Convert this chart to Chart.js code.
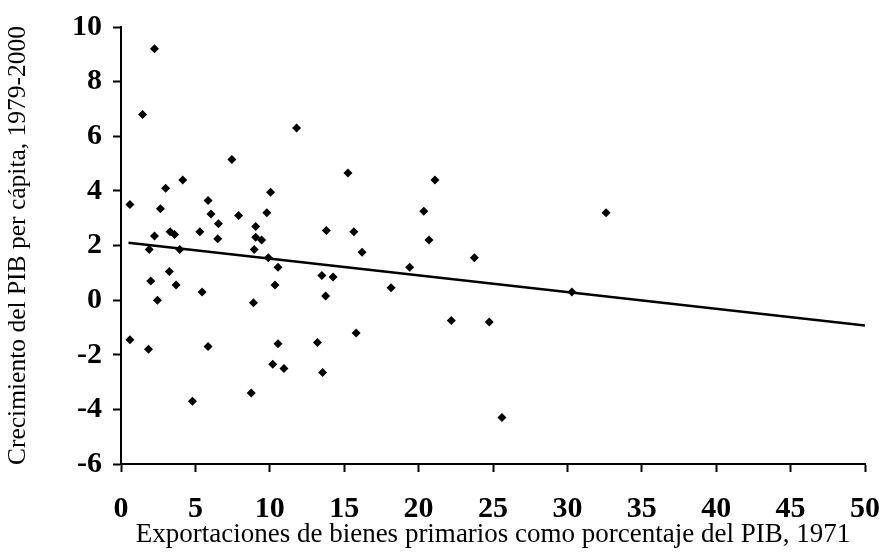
<!DOCTYPE html>
<html>
<head>
<meta charset="utf-8">
<script src="https://cdn.jsdelivr.net/npm/chart.js@4/dist/chart.umd.min.js"></script>
<style>
  html, body { margin: 0; padding: 0; background: #fff; }
  #wrap { width: 880px; height: 556px; }
</style>
</head>
<body>
<div id="wrap"><canvas id="chart"></canvas></div>
<script>
// exportaciones primarias (% PIB 1971)
var exportsShare = [0.6, 2.25, 1.45, 3.0, 4.15, 2.65, 2.25, 1.9, 3.3, 3.6, 3.95, 3.25, 5.3, 5.85, 6.05, 6.55,
	6.5, 7.45, 7.9, 9.05, 9.05, 9.45, 8.95, 9.8, 10.05, 9.9, 10.55, 11.8, 15.25, 13.8, 15.65, 16.2,
	13.5, 14.25, 2.0, 3.7, 2.45, 5.45, 0.6, 1.85, 5.85, 4.8, 8.9, 8.75, 10.35, 10.55, 10.2, 10.95,
	13.2, 13.55, 13.75, 15.8, 21.1, 20.35, 32.6, 20.7, 23.75, 19.4, 18.15, 30.3, 22.2, 24.75, 25.6];
// crecimiento PIB per capita 1979-2000
var growth = [3.5, 9.2, 6.8, 4.1, 4.4, 3.35, 2.35, 1.85, 2.5, 2.4, 1.85, 1.05, 2.5, 3.65, 3.15, 2.8,
	2.25, 5.15, 3.1, 2.7, 2.3, 2.2, 1.85, 3.2, 3.95, 1.55, 1.2, 6.3, 4.65, 2.55, 2.5, 1.75,
	0.9, 0.85, 0.7, 0.55, 0.0, 0.3, -1.45, -1.8, -1.7, -3.7, -0.1, -3.4, 0.55, -1.6, -2.35, -2.5,
	-1.55, -2.65, 0.15, -1.2, 4.4, 3.25, 3.2, 2.2, 1.55, 1.2, 0.45, 0.3, -0.75, -0.8, -4.3];

// recta de regresion (extremos)
var fitX = [0.5, 50];
var fitY = [2.1, -0.93];

var xTicks = [0, 5, 10, 15, 20, 25, 30, 35, 40, 45, 50];
var yTicks = [-6, -4, -2, 0, 2, 4, 6, 8, 10];

var xTitle = "Exportaciones de bienes primarios como porcentaje del PIB, 1971";
var yTitle = "Crecimiento del PIB per cápita, 1979-2000";

function toPoints(xs, ys) {
	var pts = [];
	for (var i = 0; i < xs.length; i++) {
		pts.push({x: xs[i], y: ys[i]});
	}
	return pts;
}

var serif = "'Liberation Serif', 'DejaVu Serif', serif";

var ctx = document.getElementById("chart").getContext("2d");
var chart = new Chart(ctx, {
	type: 'scatter',
	data: {
		datasets: [{
			data: toPoints(exportsShare, growth),
			pointStyle: 'rectRot',
			pointRadius: 4.5,
			backgroundColor: '#000',
			borderColor: '#000',
			borderWidth: 0
		}, {
			type: 'line',
			data: toPoints(fitX, fitY),
			borderColor: '#000',
			borderWidth: 2.5,
			pointRadius: 0,
			fill: false
		}]
	},
	options: {
		responsive: true,
		maintainAspectRatio: false,
		animation: false,
		layout: { padding: { top: 27, right: 15, left: 0, bottom: 0 } },
		plugins: { legend: { display: false }, tooltip: { enabled: false } },
		scales: {
			x: {
				type: 'linear',
				min: 0,
				max: 50,
				afterBuildTicks: function(axis) { axis.ticks = xTicks.map(function(v) { return {value: v}; }); },
				afterFit: function(axis) { axis.height = 92; axis.paddingLeft = 0; axis.paddingRight = 0; },
				border: { color: '#000', width: 2 },
				grid: { drawOnChartArea: false, color: '#000', tickLength: 8, tickWidth: 2 },
				ticks: { color: '#000', padding: 19, font: { family: serif, size: 30, weight: 'bold' } },
				title: { display: true, text: xTitle, color: '#000', padding: { bottom: 5 }, font: { family: serif, size: 27 } }
			},
			y: {
				type: 'linear',
				min: -6,
				max: 10,
				afterBuildTicks: function(axis) { axis.ticks = yTicks.map(function(v) { return {value: v}; }); },
				afterFit: function(axis) { axis.width = 121; axis.paddingTop = 0; axis.paddingBottom = 0; },
				border: { color: '#000', width: 2 },
				grid: { drawOnChartArea: false, color: '#000', tickLength: 8, tickWidth: 2 },
				ticks: { color: '#000', padding: 11, font: { family: serif, size: 30, weight: 'bold' } },
				title: { display: true, text: yTitle, color: '#000', padding: { top: 3 }, font: { family: serif, size: 25.5 } }
			}
		}
	}
});
</script>
</body>
</html>
